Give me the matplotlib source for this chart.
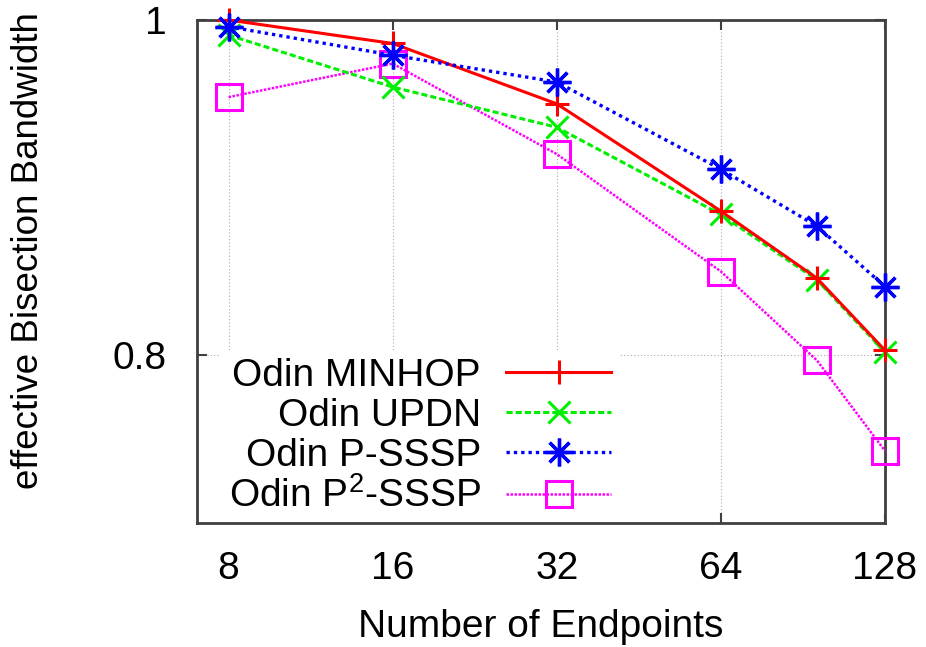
import matplotlib
matplotlib.use("Agg")
import matplotlib.pyplot as plt

plt.rcParams['font.family'] = ['Liberation Sans', 'DejaVu Sans']
plt.rcParams['mathtext.fontset'] = 'custom'
plt.rcParams['mathtext.rm'] = 'Liberation Sans'

endpoints = [8, 16, 32, 64, 96, 128]
minhop = [1.000, 0.986, 0.950, 0.886, 0.846, 0.803]
updn = [0.991, 0.960, 0.936, 0.884, 0.845, 0.802]
psssp = [0.996, 0.979, 0.963, 0.911, 0.877, 0.841]
p2sssp = [0.954, 0.974, 0.920, 0.850, 0.797, 0.743]
labels = ['Odin MINHOP', 'Odin UPDN', 'Odin P-SSSP', r'Odin P$^{2}$-SSSP']
xticks = [8, 16, 32, 64, 128]
yticks = [0.8, 1.0]
ytick_labels = ['0.8', '1']

FS = 28

fig = plt.figure(figsize=(9.26, 6.47), dpi=100)
ax = fig.add_axes([197/926, 1-523/647, (885-197)/926, (523-20)/647])

ax.plot(endpoints, minhop, color='#ff0000', lw=2.2, ls='-', marker='+',
        ms=17, mew=2.2, label=labels[0], zorder=5, clip_on=False)
ax.plot(endpoints, updn, color='#00ee00', lw=2.2, ls=(0, (2, 1)), marker='x',
        ms=16, mew=2.2, label=labels[1], zorder=4, clip_on=False)
ax.plot(endpoints, psssp, color='#0000ff', lw=2.4, ls=(0, (1, 1.2)), marker=(8, 2, 0),
        ms=20, mew=2.4, label=labels[2], zorder=6, clip_on=False)
ax.plot(endpoints, p2sssp, color='#ff00ff', lw=1.8, ls=(0, (1, 0.6)), marker='s',
        ms=19, mew=2.2, mfc='none', label=labels[3], zorder=3, clip_on=False)

ax.set_xscale('log', base=2)
ax.set_xlim(7, 128)
ax.set_ylim(0.7, 1.0)
ax.set_xticks(xticks)
ax.set_xticklabels([str(v) for v in xticks])
ax.minorticks_off()
ax.set_yticks(yticks)
ax.set_yticklabels(ytick_labels)

ax.grid(True, color='#aaaaaa', ls=(0, (1, 2)), lw=0.8, zorder=0)
for s in ax.spines.values():
    s.set_color('#404040')
    s.set_linewidth(2)
ax.tick_params(direction='in', length=7, width=1.5, color='#404040',
               labelsize=FS, top=True, right=True, pad=20)
ax.tick_params(axis='y', pad=22)

ax.set_xlabel('Number of Endpoints', fontsize=FS, labelpad=16)
ax.set_ylabel('effective Bisection Bandwidth', fontsize=26.5)
ax.yaxis.set_label_coords(-0.22, 0.541)

leg = ax.legend(loc='lower left', bbox_to_anchor=(0.035, 0.0), markerfirst=False,
                fontsize=FS, frameon=True, framealpha=1, facecolor='white',
                edgecolor='none', handlelength=2.7, handletextpad=0.65,
                labelspacing=0.1, borderpad=0.2, borderaxespad=0.0, fancybox=False)
for t in leg.get_texts():
    t.set_ha('right')
leg.set_zorder(2)

fig.savefig('out.png', dpi=100)
